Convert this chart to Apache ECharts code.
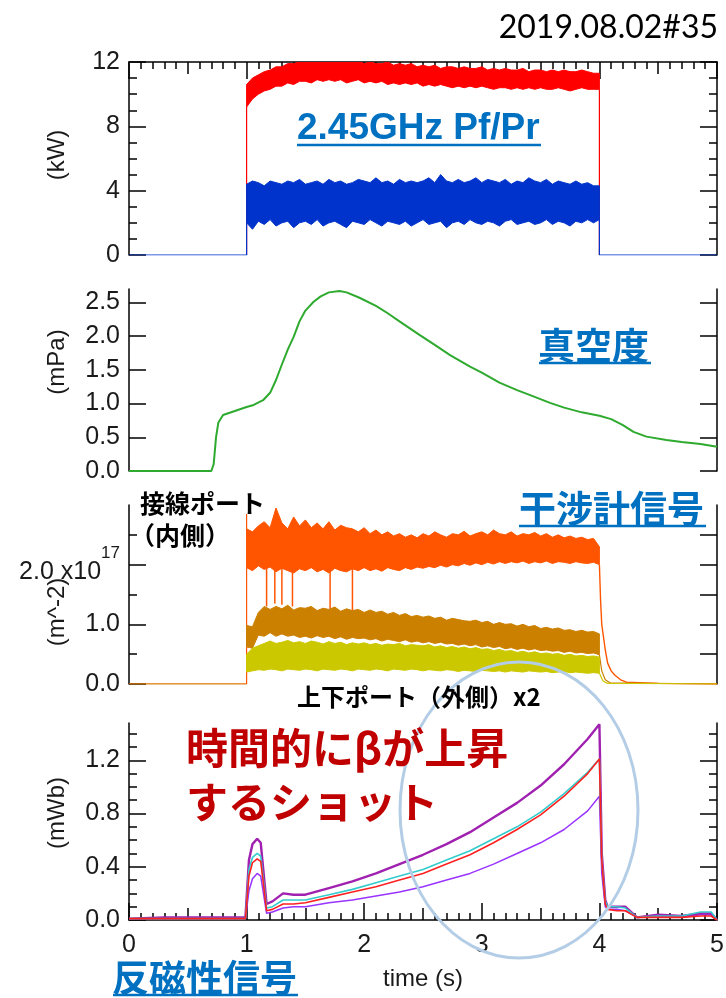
<!DOCTYPE html>
<html><head><meta charset="utf-8">
<script src="https://cdn.jsdelivr.net/npm/echarts@6/dist/echarts.min.js"></script>
<style>html,body{margin:0;padding:0;background:#fff}#c{width:726px;height:998px}</style>
</head><body><div id="c"></div>
<script>
// ---------- shared sample times for the noisy bands (s) ----------
const bandT = [1.00,1.05,1.10,1.15,1.20,1.25,1.30,1.35,1.40,1.45,1.50,1.55,1.60,1.65,1.70,1.75,1.80,1.85,1.90,1.95,
               2.00,2.05,2.10,2.15,2.20,2.25,2.30,2.35,2.40,2.45,2.50,2.55,2.60,2.65,2.70,2.75,2.80,2.85,2.90,2.95,
               3.00,3.05,3.10,3.15,3.20,3.25,3.30,3.35,3.40,3.45,3.50,3.55,3.60,3.65,3.70,3.75,3.80,3.85,3.90,3.95,4.00];

// ---------- Panel 1: 2.45GHz Pf / Pr (kW) ----------
const pfHi = [10.6,11.0,11.2,11.4,11.5,11.7,11.7,11.9,11.9,12.0, 12.1,12.0,12.1,12.2,12.1,12.2,12.0,12.1,12.0,12.1,
              11.9,12.0,11.9,11.9,12.0,11.8,11.9,11.8,11.9,11.7, 11.8,11.7,11.8,11.6,11.7,11.7,11.6,11.7,11.6,11.6,
              11.7,11.5,11.6,11.5,11.6,11.5,11.5,11.6,11.4,11.5, 11.5,11.4,11.5,11.4,11.5,11.4,11.4,11.5,11.4,11.3,11.3];
const pfLo = [9.2,9.7,10.0,10.2,10.3,10.5,10.5,10.7,10.6,10.8, 10.8,10.7,10.9,10.8,10.9,10.8,10.9,10.7,10.8,10.9,
              10.7,10.8,10.7,10.8,10.6,10.7,10.6,10.7,10.6,10.7, 10.5,10.6,10.5,10.6,10.5,10.4,10.5,10.4,10.5,10.4,
              10.5,10.4,10.3,10.4,10.4,10.3,10.4,10.3,10.4,10.3, 10.4,10.3,10.3,10.4,10.3,10.2,10.3,10.4,10.3,10.3,10.3];
const prHi = [4.4,4.6,4.5,4.3,4.6,4.5,4.4,4.6,4.5,4.7, 4.4,4.5,4.6,4.4,4.7,4.5,4.6,4.4,4.5,4.7,
              4.6,4.5,4.8,4.5,4.6,4.4,4.7,4.5,4.6,4.5, 4.6,4.8,4.5,5.0,4.6,4.5,4.7,4.5,4.6,4.8,
              4.5,4.7,4.6,4.5,4.7,4.4,4.6,4.5,4.8,4.6, 4.5,4.7,4.4,4.6,4.5,4.4,4.6,4.4,4.5,4.3,4.3];
const prLo = [2.0,1.6,2.1,1.9,2.2,1.8,2.0,2.1,1.7,2.0, 2.1,1.9,2.2,1.8,2.0,2.1,1.9,1.7,2.1,2.0,
              1.9,2.2,2.0,1.8,2.1,2.0,1.9,2.1,1.8,2.0, 2.2,1.9,2.0,2.1,1.7,2.0,2.1,1.9,2.2,2.0,
              1.9,2.1,2.0,1.8,2.1,2.2,1.9,2.0,2.1,1.9, 2.0,2.2,1.9,2.1,2.0,1.8,2.1,2.0,2.2,2.0,2.2];
const rfOffPreT = [0.0, 1.0], rfOffPostT = [4.0, 5.0], rfOffV = [0, 0];

// ---------- Panel 2: 真空度 (mPa) ----------
const pT = [0,0.70,0.72,0.74,0.76,0.80,0.90,1.00,1.06,1.14,1.20,1.25,1.30,1.35,1.40,1.45,1.50,1.57,1.63,1.70,1.79,1.85,1.96,2.10,2.20,2.30,2.47,2.60,2.73,2.90,3.00,3.15,3.30,3.45,3.58,3.70,3.85,4.00,4.10,4.20,4.29,4.40,4.57,4.70,4.86,5.00];
const pV = [0,0,0.10,0.50,0.72,0.83,0.89,0.95,0.98,1.05,1.16,1.35,1.58,1.80,1.99,2.22,2.38,2.51,2.59,2.65,2.67,2.65,2.57,2.45,2.34,2.22,2.02,1.87,1.72,1.55,1.46,1.31,1.20,1.10,1.01,0.94,0.87,0.82,0.77,0.68,0.58,0.51,0.46,0.43,0.40,0.36];

// ---------- Panel 3: 干渉計信号 (x1e17 m^-2) ----------
const oHi = [2.6,2.55,2.65,2.72,2.62,2.95,2.7,2.6,2.8,2.65, 2.75,2.62,2.7,2.6,2.72,2.58,2.66,2.62,2.6,2.55,
             2.62,2.52,2.58,2.5,2.55,2.48,2.52,2.46,2.5,2.45, 2.52,2.48,2.55,2.5,2.46,2.52,2.5,2.56,2.48,2.52,
             2.55,2.5,2.58,2.52,2.5,2.55,2.48,2.52,2.5,2.54, 2.48,2.52,2.46,2.5,2.45,2.48,2.44,2.46,2.42,2.44,2.3];
const oLo = [1.95,1.9,1.98,1.92,1.96,1.88,1.94,1.9,1.86,1.93, 1.9,1.95,1.88,1.92,1.86,1.94,1.9,1.88,1.93,1.9,
             1.95,1.9,1.93,1.89,1.95,1.92,1.9,1.95,1.92,1.96, 1.94,1.97,1.95,1.99,1.96,2.0,1.98,2.02,1.99,2.03,
             2.0,2.04,2.01,2.05,2.02,2.05,2.03,2.06,2.02,2.05, 2.03,2.06,2.02,2.05,2.04,2.02,2.05,2.03,2.02,2.04,2.0];
const oSpT   = [1.17,1.24,1.30,1.39,1.71,1.90];
const oSpLow = [1.30,1.35,1.33,1.30,1.25,1.21];
const oSpTop = [2.2,2.2,2.2,2.2,2.2,2.2];
const oPreT = [0,1.0,1.0], oPreV = [0.0,0.0,2.85];
const oDecT = [4.00,4.01,4.02,4.05,4.07,4.10,4.13,4.18,4.23,4.50,5.00];
const oDecV = [2.0,1.4,1.0,0.57,0.35,0.22,0.15,0.07,0.03,0.01,0.0];

const bHi = [0.98,0.96,1.2,1.3,1.25,1.3,1.26,1.32,1.24,1.28, 1.27,1.3,1.23,1.27,1.25,1.29,1.22,1.26,1.23,1.25,
             1.2,1.24,1.2,1.22,1.17,1.2,1.15,1.18,1.13,1.15, 1.12,1.14,1.1,1.12,1.07,1.1,1.08,1.06,1.05,1.07,
             1.03,1.05,1.0,1.03,1.0,1.01,0.97,1.0,0.96,0.98, 0.93,0.95,0.92,0.94,0.9,0.91,0.88,0.9,0.87,0.88,0.84];
const bLo = [0.62,0.6,0.82,0.8,0.86,0.8,0.84,0.8,0.82,0.78, 0.8,0.77,0.81,0.78,0.8,0.76,0.79,0.75,0.78,0.76,
             0.77,0.74,0.76,0.72,0.75,0.73,0.71,0.74,0.7,0.72, 0.69,0.71,0.68,0.7,0.67,0.68,0.65,0.67,0.64,0.66,
             0.62,0.64,0.61,0.63,0.59,0.61,0.58,0.6,0.57,0.59, 0.56,0.57,0.55,0.56,0.53,0.55,0.52,0.53,0.51,0.52,0.49];
const bPreT = [0,1.0], bPreV = [0.0,0.0];
const bDecT = [4.00,4.02,4.05,4.09,5.0], bDecV = [0.49,0.22,0.07,0.02,0.0];

const yHi = [0.5,0.6,0.64,0.68,0.72,0.68,0.7,0.73,0.69,0.71, 0.68,0.72,0.7,0.67,0.71,0.68,0.7,0.66,0.69,0.67,
             0.69,0.66,0.68,0.65,0.67,0.66,0.68,0.64,0.66,0.65, 0.64,0.66,0.62,0.64,0.61,0.63,0.6,0.62,0.59,0.61,
             0.58,0.59,0.56,0.58,0.55,0.56,0.53,0.55,0.52,0.54, 0.51,0.52,0.5,0.51,0.48,0.5,0.47,0.48,0.46,0.47,0.45];
const yLo = [0.2,0.22,0.24,0.23,0.25,0.24,0.22,0.25,0.24,0.23, 0.25,0.24,0.22,0.25,0.24,0.23,0.25,0.24,0.22,0.25,
             0.24,0.23,0.25,0.24,0.22,0.25,0.24,0.23,0.25,0.24, 0.22,0.24,0.23,0.22,0.24,0.23,0.21,0.23,0.22,0.21,
             0.23,0.22,0.21,0.22,0.2,0.22,0.21,0.2,0.22,0.21, 0.2,0.21,0.19,0.2,0.21,0.19,0.2,0.19,0.18,0.19,0.18];
const yDecT = [4.00,4.03,4.07,5.0], yDecV = [0.18,0.05,0.01,0.0];

// ---------- Panel 4: 反磁性信号 (mWb) ----------
const mT = [0,0.3,0.6,0.99,1.02,1.05,1.09,1.12,1.17,1.22,1.31,1.4,1.5,1.7,1.9,2.1,2.3,2.5,2.7,2.9,3.1,3.3,3.5,3.7,3.9,4.0,4.02,4.05,4.07,4.15,4.22,4.32,4.5,4.7,4.86,4.95,5.0];
const magV = [0.01,0.02,0.02,0.02,0.45,0.57,0.61,0.58,0.12,0.14,0.20,0.19,0.19,0.24,0.29,0.35,0.42,0.49,0.57,0.66,0.77,0.88,1.01,1.17,1.36,1.47,0.5,0.15,0.10,0.10,0.10,0.02,0.04,0.03,0.05,0.05,0.0];
const cyaV = [0.01,0.01,0.01,0.01,0.38,0.47,0.50,0.48,0.09,0.10,0.15,0.15,0.15,0.19,0.23,0.28,0.33,0.38,0.45,0.52,0.61,0.70,0.81,0.95,1.11,1.21,0.45,0.14,0.10,0.10,0.09,0.02,0.03,0.03,0.06,0.06,0.0];
const redV = [0.01,0.01,0.01,0.01,0.33,0.43,0.46,0.44,0.07,0.08,0.12,0.12,0.13,0.17,0.21,0.25,0.30,0.35,0.42,0.49,0.58,0.68,0.79,0.93,1.10,1.21,0.45,0.12,0.08,0.07,0.07,0.02,0.02,0.02,0.03,0.03,0.0];
const vioV = [0.01,0.01,0.01,0.01,0.22,0.31,0.35,0.33,0.05,0.06,0.09,0.10,0.10,0.13,0.15,0.18,0.21,0.25,0.30,0.35,0.42,0.50,0.58,0.68,0.82,0.93,0.35,0.10,0.08,0.08,0.07,0.02,0.03,0.02,0.04,0.04,0.0];

// ---------- helpers ----------
const NUMF = '"Liberation Sans", Arial, sans-serif';
const JPF = '"Noto Sans CJK JP", sans-serif';
const TXT = '#1a1a1a';
const pair = (T, V) => T.map((t, i) => [t, V[i]]);
const first = a => a[0], last = a => a[a.length - 1];

function lineS(xi, yi, T, V, color, w, z) {
  return {type:'line', xAxisIndex:xi, yAxisIndex:yi, data:pair(T, V), symbol:'none', showSymbol:false,
    lineStyle:{color:color, width:w}, itemStyle:{color:color}, z:z || 2, silent:true, clip:true, animation:false};
}
function bandS(xi, yi, T, hi, lo, color, z) {
  return {type:'custom', xAxisIndex:xi, yAxisIndex:yi, z:z || 2, silent:true, clip:true,
    data: T.map((t, i) => [t, lo[i], hi[i]]), encode:{x:0, y:[1, 2]},
    renderItem: function (params, api) {
      if (params.dataIndexInside !== 0) return null;
      const top = [], bot = [];
      for (let i = 0; i < T.length; i++) {
        top.push(api.coord([T[i], hi[i]]));
        bot.push(api.coord([T[i], lo[i]]));
      }
      return {type:'polygon', shape:{points: top.concat(bot.reverse())},
        style:{fill:color, stroke:color, lineWidth:1}};
    }};
}
function spikeS(xi, yi, T, a, b, color, w, z) {
  return {type:'custom', xAxisIndex:xi, yAxisIndex:yi, z:z || 2, silent:true, clip:true,
    data: T.map((t, i) => [t, a[i], b[i]]), encode:{x:0, y:[1, 2]},
    renderItem: function (params, api) {
      const p1 = api.coord([api.value(0), api.value(1)]);
      const p2 = api.coord([api.value(0), api.value(2)]);
      return {type:'line', shape:{x1:p1[0], y1:p1[1], x2:p2[0], y2:p2[1]}, style:{stroke:color, lineWidth:w}};
    }};
}

const axLine = {show:true, onZero:false, lineStyle:{color:'#000', width:1.5}};
const noLine = {show:false, onZero:false};
const tk = (len, extra) => Object.assign({show:true, inside:true, length:len, lineStyle:{color:'#000', width:1.5}}, extra || {});
const mtk = (n, len) => ({show:true, splitNumber:n, length:len, lineStyle:{color:'#000', width:1.5}});
const lab = (extra) => Object.assign({show:true, fontSize:25, fontFamily:NUMF, color:TXT, margin:9}, extra || {});

const xAxes = [
  {gridIndex:0, type:'value', position:'top', min:0, max:5, interval:0.5, axisLine:axLine, axisTick:tk(12), minorTick:mtk(5, 7), axisLabel:{show:false}, splitLine:{show:false}},
  {gridIndex:0, type:'value', position:'top', min:0, max:5, interval:1, axisLine:noLine, axisTick:tk(17), axisLabel:{show:false}, splitLine:{show:false}},
  {gridIndex:1, type:'value', min:0, max:5, show:false},
  {gridIndex:2, type:'value', min:0, max:5, show:false},
  {gridIndex:3, type:'value', position:'bottom', min:0, max:5, interval:0.5, axisLine:axLine, axisTick:tk(12), minorTick:mtk(5, 7),
    axisLabel:lab({customValues:[0,1,2,3,4,5], margin:13}), splitLine:{show:false},
    name:'time (s)', nameLocation:'middle', nameGap:47, nameTextStyle:{fontSize:24, fontFamily:NUMF, color:TXT}},
  {gridIndex:3, type:'value', position:'bottom', min:0, max:5, interval:1, axisLine:noLine, axisTick:tk(17), axisLabel:{show:false}, splitLine:{show:false}}
];

const p2Ticks = [0,0.5,1,1.5,2,2.5];
const p4Ticks = [0,0.4,0.8,1.2];
const yAxes = [
  {gridIndex:0, type:'value', position:'left', min:0, max:12, interval:4, axisLine:axLine, axisTick:tk(17), minorTick:mtk(4, 8), axisLabel:lab(), splitLine:{show:false}},
  {gridIndex:0, type:'value', position:'right', min:0, max:12, interval:4, axisLine:axLine, axisTick:tk(17), minorTick:mtk(4, 8), axisLabel:{show:false}, splitLine:{show:false}},
  {gridIndex:1, type:'value', position:'left', min:0, max:2.7, interval:0.5, axisLine:axLine, axisTick:tk(17, {customValues:p2Ticks}),
    axisLabel:lab({customValues:p2Ticks, formatter:v => v.toFixed(1)}), splitLine:{show:false}},
  {gridIndex:1, type:'value', position:'right', min:0, max:2.7, interval:0.5, axisLine:axLine, axisTick:tk(17, {customValues:p2Ticks}), axisLabel:{show:false}, splitLine:{show:false}},
  {gridIndex:2, type:'value', position:'left', min:0, max:3, interval:1, axisLine:axLine, axisTick:tk(17, {customValues:[0,1,2]}), minorTick:mtk(2, 8),
    axisLabel:lab({customValues:[0,1,2], formatter:v => v === 2 ? '{b|2.0 x10}{s|17}' : v.toFixed(1),
      rich:{b:{fontSize:25, fontFamily:NUMF, color:TXT, lineHeight:25, padding:[15,0,0,0]},
            s:{fontSize:17, fontFamily:NUMF, color:TXT, lineHeight:17, padding:[0,0,23,0]}}}), splitLine:{show:false}},
  {gridIndex:2, type:'value', position:'right', min:0, max:3, interval:0.5, axisLine:axLine, axisTick:tk(17, {customValues:[0.5,1,1.5,2,2.5]}), axisLabel:{show:false}, splitLine:{show:false}},
  {gridIndex:3, type:'value', position:'left', min:0, max:1.48, interval:0.4, axisLine:axLine, axisTick:tk(17, {customValues:p4Ticks}), minorTick:mtk(4, 8),
    axisLabel:lab({customValues:p4Ticks, formatter:v => v.toFixed(1)}), splitLine:{show:false}},
  {gridIndex:3, type:'value', position:'right', min:0, max:1.48, interval:0.4, axisLine:axLine, axisTick:tk(17, {customValues:p4Ticks}), minorTick:mtk(4, 8), axisLabel:{show:false}, splitLine:{show:false}}
];

const C = {pf:'#FF0000', pr:'#0033CC', g:'#2EAA2E', o:'#FF5500', b:'#CC8000', y:'#CCC800', mag:'#A020B0', cya:'#33CCCC', red:'#FF2020', vio:'#9933FF'};

const series = [
  // panel 1
  lineS(0, 0, [first(bandT), first(bandT)], [0, first(pfLo)], C.pf, 1.2, 2),
  lineS(0, 0, [last(bandT), last(bandT)], [last(pfLo), 0], C.pf, 1.2, 2),
  bandS(0, 0, bandT, pfHi, pfLo, C.pf, 3),
  bandS(0, 0, bandT, prHi, prLo, C.pr, 4),
  lineS(0, 0, [rfOffPreT[0], rfOffPreT[1], first(bandT), first(bandT)], [rfOffV[0], rfOffV[1], 0, first(prLo)], C.pr, 1.2, 4),
  lineS(0, 0, [last(bandT), last(bandT), rfOffPostT[0], rfOffPostT[1]], [last(prLo), 0, rfOffV[0], rfOffV[1]], C.pr, 1.2, 4),
  // panel 2
  lineS(2, 2, pT, pV, C.g, 2, 3),
  // panel 3
  lineS(3, 4, oPreT, oPreV, C.o, 1.2, 3),
  bandS(3, 4, bandT, oHi, oLo, C.o, 3),
  spikeS(3, 4, oSpT, oSpLow, oSpTop, C.o, 1.5, 3),
  lineS(3, 4, oDecT, oDecV, C.o, 1.4, 3),
  lineS(3, 4, bPreT, bPreV, C.b, 1.2, 4),
  bandS(3, 4, bandT, bHi, bLo, C.b, 4),
  lineS(3, 4, bDecT, bDecV, C.b, 1.2, 4),
  bandS(3, 4, bandT, yHi, yLo, C.y, 5),
  lineS(3, 4, yDecT, yDecV, C.y, 1.2, 5),
  // panel 4
  lineS(4, 6, mT, vioV, C.vio, 1.5, 3),
  lineS(4, 6, mT, magV, C.mag, 2.4, 4),
  lineS(4, 6, mT, cyaV, C.cya, 1.6, 5),
  lineS(4, 6, mT, redV, C.red, 1.6, 6)
];

const BLUE = '#0070C0';
const txt = (text, x, y, size, color, family, weight) => ({type:'text', x:x, y:y, z:100,
  style:{text:text, fontSize:size, fontFamily:family, fontWeight:weight || 'normal', fill:color, align:'left', verticalAlign:'middle', textAlign:'left', textVerticalAlign:'middle'}});
const uline = (x1, x2, y) => ({type:'line', z:100, shape:{x1:x1, y1:y, x2:x2, y2:y}, style:{stroke:BLUE, lineWidth:2.5}});
const unit = (text, y) => ({type:'text', x:57, y:y, rotation:Math.PI/2, z:100,
  style:{text:text, fontSize:24, fontFamily:NUMF, fill:TXT, align:'center', verticalAlign:'middle', textAlign:'center', textVerticalAlign:'middle'}});

const graphic = [
  {type:'text', x:718, y:28, z:100, style:{text:'2019.08.02#35', fontSize:32, fontFamily:'Lato, sans-serif', fill:'#000', align:'right', verticalAlign:'middle', textAlign:'right', textVerticalAlign:'middle'}},
  txt('2.45GHz Pf/Pr', 297, 129, 37, BLUE, NUMF, 'bold'), uline(297, 541, 145),
  txt('真空度', 538, 346, 37, BLUE, JPF, 'bold'), uline(539, 651, 363),
  txt('干涉計信号', 519, 509, 37, BLUE, JPF, 'bold'), uline(519, 706, 526),
  txt('反磁性信号', 112, 978, 37, BLUE, JPF, 'bold'), uline(113, 298, 995),
  txt('接線ポート', 140, 503, 25, '#000', JPF, 'bold'),
  txt('（内側）', 130, 535, 25, '#000', JPF, 'bold'),
  txt('上下ポート（外側）x2', 297, 697, 24, '#000', JPF, 'bold'),
  txt('時間的にβが上昇', 186, 748, 42, '#C00000', JPF, 'bold'),
  txt('するショット', 186, 802, 42, '#C00000', JPF, 'bold'),
  {type:'ellipse', z:90, shape:{cx:519, cy:810, rx:119, ry:148}, style:{fill:'none', stroke:'#B4CDE6', lineWidth:3}},
  unit('(kW)', 155), unit('(mPa)', 362), unit('(m^-2)', 612), unit('(mWb)', 813)
];

const chart = echarts.init(document.getElementById('c'), null, {renderer:'canvas'});
chart.setOption({
  animation:false,
  backgroundColor:'#fff',
  grid:[
    {left:129, top:62, width:588, height:193, containLabel:false, outerBoundsMode:'none'},
    {left:129, top:289, width:588, height:182, containLabel:false, outerBoundsMode:'none'},
    {left:129, top:505, width:588, height:179, containLabel:false, outerBoundsMode:'none'},
    {left:129, top:723, width:588, height:197, containLabel:false, outerBoundsMode:'none'}
  ],
  xAxis:xAxes, yAxis:yAxes, series:series, graphic:graphic
});
</script></body></html>
